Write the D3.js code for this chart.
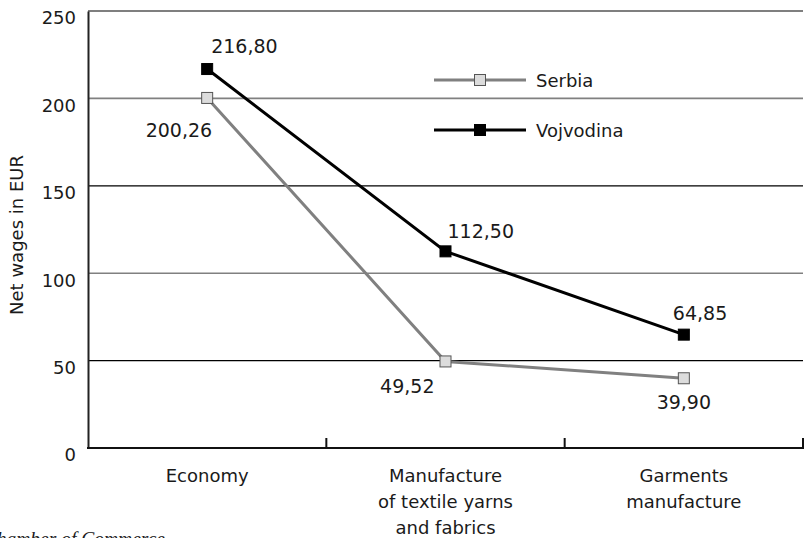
<!DOCTYPE html>
<html>
<head>
<meta charset="utf-8">
<script src="https://cdn.jsdelivr.net/npm/d3@7"></script>
<style>
  html, body { margin: 0; padding: 0; background: #fff; }
  svg { display: block; }
  text { font-family: "DejaVu Sans", Verdana, sans-serif; fill: #1a1a1a; }
</style>
</head>
<body>
<svg id="chart" width="808" height="538"></svg>
<script>
// Net wages by sector
const categories = ["Economy", "Manufacture\nof textile yarns\nand fabrics", "Garments\nmanufacture"];
const serbia = [200.26, 49.52, 39.90];
const vojvodina = [216.80, 112.50, 64.85];
const yTicks = [0, 50, 100, 150, 200, 250];
const seriesNames = ["Serbia", "Vojvodina"];

const fmt = v => v.toFixed(2).replace(".", ",");

const svg = d3.select("#chart");
const plot = { left: 88, right: 803, top: 11, bottom: 448 };

const x = d3.scaleBand().domain(categories).range([plot.left, plot.right]);
const y = d3.scaleLinear().domain([0, 250]).range([plot.bottom, plot.top]);

// horizontal grid: alternating black / grey
svg.append("g").selectAll("line")
  .data(yTicks.filter(t => t > 0))
  .join("line")
  .attr("x1", plot.left).attr("x2", plot.right)
  .attr("y1", d => y(d)).attr("y2", d => y(d))
  .attr("stroke", d => (d / 50) % 2 === 0 ? "#808080" : "#000")
  .attr("stroke-width", d => (d / 50) % 2 === 0 ? 1.6 : 1.2);

// y axis
const yAxis = svg.append("g").attr("transform", `translate(${plot.left},0)`)
  .call(d3.axisLeft(y).tickValues(yTicks).tickSize(0).tickPadding(12));
yAxis.select(".domain").attr("stroke", "#222").attr("stroke-width", 2);
yAxis.selectAll("text")
  .attr("dy", "0.72em")
  .style("font-size", "18px")
  .style("font-family", "DejaVu Sans, Verdana, sans-serif")
  .attr("fill", "#1a1a1a");

// x axis with inward ticks at band edges
const xg = svg.append("g");
xg.append("line").attr("x1", plot.left - 1).attr("x2", plot.right + 1)
  .attr("y1", plot.bottom).attr("y2", plot.bottom)
  .attr("stroke", "#111").attr("stroke-width", 2.2);
const edges = categories.map(c => x(c)).concat([plot.right]);
xg.selectAll("line.tick").data(edges.slice(1)).join("line")
  .attr("class", "tick")
  .attr("x1", d => d).attr("x2", d => d)
  .attr("y1", plot.bottom).attr("y2", plot.bottom - 10)
  .attr("stroke", "#111").attr("stroke-width", 2);

// category labels
categories.forEach(c => {
  const lines = c.split("\n");
  const t = svg.append("text")
    .attr("x", x(c) + x.bandwidth() / 2)
    .attr("y", 482)
    .attr("text-anchor", "middle")
    .style("font-size", "18px");
  lines.forEach((l, i) => {
    t.append("tspan").attr("x", x(c) + x.bandwidth() / 2)
      .attr("dy", i === 0 ? 0 : 26).text(l);
  });
});

// y axis title
svg.append("text")
  .attr("transform", `translate(23,235) rotate(-90)`)
  .attr("text-anchor", "middle")
  .style("font-size", "18px")
  .text("Net wages in EUR");

// source note, running off the lower-left edge
svg.append("text")
  .attr("x", 165).attr("y", 545)
  .attr("text-anchor", "end")
  .style("font-family", "Liberation Serif, Times New Roman, serif")
  .style("font-style", "italic")
  .style("font-size", "19.5px")
  .attr("fill", "#333")
  .text("Source: Serbian Chamber of Commerce");

const cx = c => x(c) + x.bandwidth() / 2;
const line = d3.line().x((d, i) => cx(categories[i])).y(d => y(d));

const styles = {
  Serbia: { stroke: "#808080", fill: "#dcdcdc", mstroke: "#555" },
  Vojvodina: { stroke: "#000", fill: "#000", mstroke: "#000" }
};

// value label offsets relative to each point: [dx, dy, anchor]
const labelOffsets = {
  Serbia: [[5, 39, "end"], [-11, 32, "end"], [0, 31, "middle"]],
  Vojvodina: [[4, -16, "start"], [2, -13, "start"], [-11, -15, "start"]]
};

const data = { Serbia: serbia, Vojvodina: vojvodina };

seriesNames.forEach(name => {
  const vals = data[name];
  const st = styles[name];
  svg.append("path").datum(vals)
    .attr("d", line)
    .attr("fill", "none")
    .attr("stroke", st.stroke)
    .attr("stroke-width", 3);
  svg.append("g").selectAll("rect").data(vals).join("rect")
    .attr("x", (d, i) => cx(categories[i]) - 5.5)
    .attr("y", d => y(d) - 5.5)
    .attr("width", 11).attr("height", 11)
    .attr("fill", st.fill)
    .attr("stroke", st.mstroke)
    .attr("stroke-width", 1);
  svg.append("g").selectAll("text").data(vals).join("text")
    .attr("x", (d, i) => cx(categories[i]) + labelOffsets[name][i][0])
    .attr("y", (d, i) => y(d) + labelOffsets[name][i][1])
    .attr("text-anchor", (d, i) => labelOffsets[name][i][2])
    .style("font-size", "19px")
    .text(d => fmt(d));
});

// legend
const legend = svg.append("g");
seriesNames.forEach((name, i) => {
  const st = styles[name];
  const ly = 80 + i * 50;
  legend.append("line").attr("x1", 434).attr("x2", 526)
    .attr("y1", ly).attr("y2", ly)
    .attr("stroke", st.stroke).attr("stroke-width", 3);
  legend.append("rect").attr("x", 474.5).attr("y", ly - 5.5)
    .attr("width", 11).attr("height", 11)
    .attr("fill", st.fill).attr("stroke", st.mstroke).attr("stroke-width", 1);
  legend.append("text").attr("x", 536).attr("y", ly + 7)
    .style("font-size", "18px")
    .text(name);
});
</script>
</body>
</html>
